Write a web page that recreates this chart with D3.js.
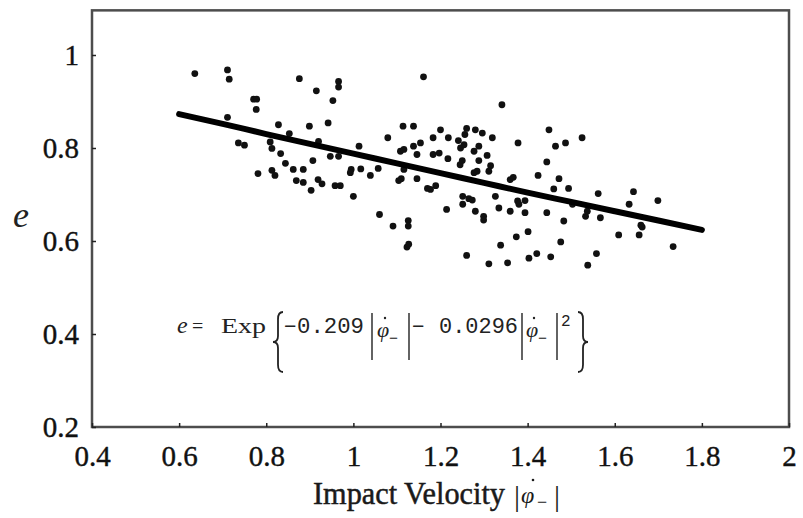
<!DOCTYPE html>
<html>
<head>
<meta charset="utf-8">
<script src="https://cdn.jsdelivr.net/npm/d3@7"></script>
<style>
  html, body { margin: 0; padding: 0; background: #fff; }
  svg { display: block; }
</style>
</head>
<body>
<div id="chart"></div>
<script>
// impact velocity |phi_-| of each trial
const velocity = [
  0.636, 0.711, 0.715, 0.771, 0.778, 0.777, 0.711, 0.828, 0.736, 0.750,
  0.813, 0.833, 0.844, 0.781, 0.813, 0.820, 0.809, 0.853, 0.876, 0.915,
  0.966, 0.966, 0.953, 1.161, 0.899, 0.942, 0.920, 1.013, 1.079, 1.114,
  1.138, 0.907, 0.862, 0.885, 0.947, 0.966, 0.995, 0.993, 1.017, 1.057,
  1.039, 1.108, 1.116, 1.138, 1.154, 1.146, 1.116, 1.104, 1.110, 1.146,
  1.170, 0.869, 0.885, 0.919, 0.928, 0.903, 0.958, 0.970, 1.000, 1.060,
  1.091, 1.126, 1.126, 1.123, 1.127, 1.341, 1.200, 1.183, 1.218, 1.241,
  1.260, 1.256, 1.280, 1.296, 1.319, 1.246, 1.254, 1.277, 1.288, 1.197,
  1.183, 1.217, 1.245, 1.250, 1.288, 1.307, 1.315, 1.311, 1.284, 1.277,
  1.449, 1.378, 1.464, 1.487, 1.444, 1.424, 1.472, 1.460, 1.360, 1.367,
  1.189, 1.177, 1.326, 1.251, 1.265, 1.273, 1.251, 1.214, 1.280, 1.299,
  1.299, 1.334, 1.360, 1.377, 1.380, 1.394, 1.394, 1.444, 1.483, 1.401,
  1.374, 1.476, 1.338, 1.260, 1.311, 1.354, 1.403, 1.421, 1.453, 1.525,
  1.494, 1.562, 1.643, 1.633, 1.699, 1.533, 1.537, 1.567, 1.609, 1.656,
  1.660, 1.663, 1.734, 1.558, 1.538, 1.503
];
// coefficient of restitution e of each trial
const restitution = [
  0.960, 0.968, 0.948, 0.905, 0.905, 0.883, 0.866, 0.850, 0.811, 0.806,
  0.799, 0.788, 0.767, 0.745, 0.752, 0.741, 0.813, 0.831, 0.949, 0.923,
  0.943, 0.931, 0.902, 0.953, 0.847, 0.854, 0.814, 0.804, 0.822, 0.847,
  0.847, 0.773, 0.754, 0.754, 0.782, 0.782, 0.754, 0.747, 0.755, 0.756,
  0.741, 0.793, 0.797, 0.804, 0.811, 0.786, 0.754, 0.730, 0.734, 0.734,
  0.713, 0.730, 0.726, 0.732, 0.723, 0.709, 0.719, 0.719, 0.696, 0.657,
  0.632, 0.644, 0.632, 0.587, 0.593, 0.893, 0.839, 0.822, 0.822, 0.816,
  0.842, 0.829, 0.839, 0.832, 0.822, 0.800, 0.807, 0.793, 0.804, 0.789,
  0.786, 0.777, 0.764, 0.773, 0.773, 0.784, 0.762, 0.750, 0.750, 0.747,
  0.839, 0.811, 0.804, 0.811, 0.770, 0.741, 0.734, 0.712, 0.732, 0.737,
  0.719, 0.711, 0.696, 0.696, 0.691, 0.688, 0.679, 0.668, 0.664, 0.653,
  0.645, 0.671, 0.664, 0.686, 0.679, 0.687, 0.661, 0.661, 0.643, 0.620,
  0.609, 0.598, 0.591, 0.569, 0.551, 0.553, 0.563, 0.573, 0.566, 0.822,
  0.713, 0.702, 0.706, 0.679, 0.687, 0.653, 0.664, 0.650, 0.613, 0.613,
  0.634, 0.630, 0.588, 0.573, 0.548, 0.679
];
// fitted curve
const fitVelocity = [0.6, 0.7, 0.8, 0.9, 1.0, 1.1, 1.2, 1.3, 1.4, 1.5, 1.6, 1.7, 1.8];
const fitRestitution = [0.873, 0.852, 0.830, 0.809, 0.788, 0.767, 0.746, 0.725, 0.704, 0.684, 0.664, 0.644, 0.624];

const xTicks = [0.4, 0.6, 0.8, 1, 1.2, 1.4, 1.6, 1.8, 2];
const yTicks = [0.2, 0.4, 0.6, 0.8, 1];

const width = 803, height = 518;
const serif = '"Liberation Serif", "Times New Roman", "DejaVu Serif", serif';
const mono = '"Liberation Mono", "DejaVu Sans Mono", monospace';

const svg = d3.select('#chart').append('svg')
  .attr('width', width)
  .attr('height', height);

const x = d3.scaleLinear().domain([0.4, 2]).range([92, 789]);
const y = d3.scaleLinear().domain([0.2, 1]).range([427, 55]);
const yTop = 1.096;

// frame
svg.append('rect')
  .attr('x', x(0.4))
  .attr('y', y(yTop))
  .attr('width', x(2) - x(0.4))
  .attr('height', y(0.2) - y(yTop))
  .attr('fill', 'none')
  .attr('stroke', '#4d4d4d')
  .attr('stroke-width', 2.5);

// axes (frame already drawn, so drop domain path)
const xAxis = svg.append('g')
  .attr('transform', `translate(0,${y(0.2)})`)
  .call(d3.axisBottom(x).tickValues(xTicks).tickFormat(d3.format('~g'))
    .tickSizeInner(-4).tickSizeOuter(0).tickPadding(18));
const yAxis = svg.append('g')
  .attr('transform', `translate(${x(0.4)},0)`)
  .call(d3.axisLeft(y).tickValues(yTicks).tickFormat(d3.format('~g'))
    .tickSizeInner(-4).tickSizeOuter(0).tickPadding(13));
[xAxis, yAxis].forEach(g => {
  g.select('.domain').remove();
  g.selectAll('.tick line').attr('stroke', '#222').attr('stroke-width', 1.5);
  g.selectAll('.tick text')
    .attr('font-family', serif)
    .attr('font-size', 29)
    .attr('fill', '#111')
    .attr('stroke', '#111')
    .attr('stroke-width', 0.4);
});

// scatter
const pts = velocity.map((v, i) => ({ v: v, e: restitution[i] }));
svg.append('g').selectAll('circle')
  .data(pts)
  .join('circle')
  .attr('cx', d => x(d.v))
  .attr('cy', d => y(d.e))
  .attr('r', 3.4)
  .attr('fill', '#111');

// fitted line
const fit = fitVelocity.map((v, i) => [v, fitRestitution[i]]);
svg.append('path')
  .datum(fit)
  .attr('d', d3.line().x(d => x(d[0])).y(d => y(d[1])).curve(d3.curveMonotoneX))
  .attr('fill', 'none')
  .attr('stroke', '#000')
  .attr('stroke-width', 6)
  .attr('stroke-linecap', 'round');

// axis titles
svg.append('text')
  .attr('x', 13).attr('y', 227)
  .attr('font-family', serif).attr('font-style', 'italic')
  .attr('font-size', 36).attr('fill', '#222')
  .text('e');

const xl = svg.append('g').attr('fill', '#1a1a1a').attr('font-family', serif);
xl.append('text')
  .attr('x', 313).attr('y', 504)
  .attr('font-size', 31)
  .attr('stroke', '#1a1a1a').attr('stroke-width', 0.5)
  .attr('textLength', 192).attr('lengthAdjust', 'spacingAndGlyphs')
  .text('Impact Velocity');
xl.append('text').attr('x', 514).attr('y', 506).attr('font-size', 30).text('|');
xl.append('text').attr('x', 521).attr('y', 503).attr('font-size', 24)
  .attr('font-style', 'italic').text('φ');
xl.append('circle').attr('cx', 533).attr('cy', 480).attr('r', 1.3);
xl.append('text').attr('x', 537).attr('y', 508).attr('font-size', 18).text('−');
xl.append('text').attr('x', 554).attr('y', 506).attr('font-size', 30).text('|');

// formula annotation
const fm = svg.append('g').attr('fill', '#222').attr('stroke', 'none');
const base = 333;
fm.append('text').attr('x', 177).attr('y', base)
  .attr('font-family', serif).attr('font-style', 'italic').attr('font-size', 24).text('e');
fm.append('text').attr('x', 192).attr('y', base)
  .attr('font-family', serif).attr('font-size', 20).text('=');
fm.append('text').attr('x', 221).attr('y', base)
  .attr('font-family', serif).attr('font-size', 20)
  .attr('textLength', 45).attr('lengthAdjust', 'spacingAndGlyphs').text('Exp');
fm.append('text').attr('x', 284).attr('y', base)
  .attr('font-family', mono).attr('font-size', 21).text('−');
fm.append('text').attr('x', 297).attr('y', base)
  .attr('font-family', mono).attr('font-size', 22)
  .attr('textLength', 67).attr('lengthAdjust', 'spacingAndGlyphs').text('0.209');
fm.append('text').attr('x', 412).attr('y', base)
  .attr('font-family', mono).attr('font-size', 21).text('−');
fm.append('text').attr('x', 439).attr('y', base)
  .attr('font-family', mono).attr('font-size', 22)
  .attr('textLength', 79).attr('lengthAdjust', 'spacingAndGlyphs').text('0.0296');
fm.append('text').attr('x', 561).attr('y', 326)
  .attr('font-family', mono).attr('font-size', 16).text('2');

// phi-dot with minus subscript
[377, 526].forEach(px => {
  fm.append('text').attr('x', px).attr('y', 337)
    .attr('font-family', serif).attr('font-style', 'italic').attr('font-size', 22).text('φ');
  fm.append('circle').attr('cx', px + 8).attr('cy', 318).attr('r', 1.2);
  fm.append('text').attr('x', px + 12).attr('y', 343)
    .attr('font-family', mono).attr('font-size', 15).text('−');
});

// abs bars
[372, 409, 522, 557].forEach(bx => {
  fm.append('line')
    .attr('x1', bx).attr('x2', bx).attr('y1', 313).attr('y2', 360)
    .attr('stroke', '#222').attr('stroke-width', 1.4);
});

// big braces
function brace(cx, y1, y2, dir) {
  const h = y2 - y1, m = (y1 + y2) / 2, w = 5 * dir;
  const p = d3.path();
  p.moveTo(cx + w, y1);
  p.quadraticCurveTo(cx, y1, cx, y1 + h * 0.12);
  p.lineTo(cx, m - h * 0.1);
  p.quadraticCurveTo(cx, m, cx - w, m);
  p.quadraticCurveTo(cx, m, cx, m + h * 0.1);
  p.lineTo(cx, y2 - h * 0.12);
  p.quadraticCurveTo(cx, y2, cx + w, y2);
  return p.toString();
}
fm.append('path').attr('d', brace(278, 312, 372, 1))
  .attr('fill', 'none').attr('stroke', '#222').attr('stroke-width', 1.8);
fm.append('path').attr('d', brace(583, 312, 372, -1))
  .attr('fill', 'none').attr('stroke', '#222').attr('stroke-width', 1.8);
</script>
</body>
</html>
